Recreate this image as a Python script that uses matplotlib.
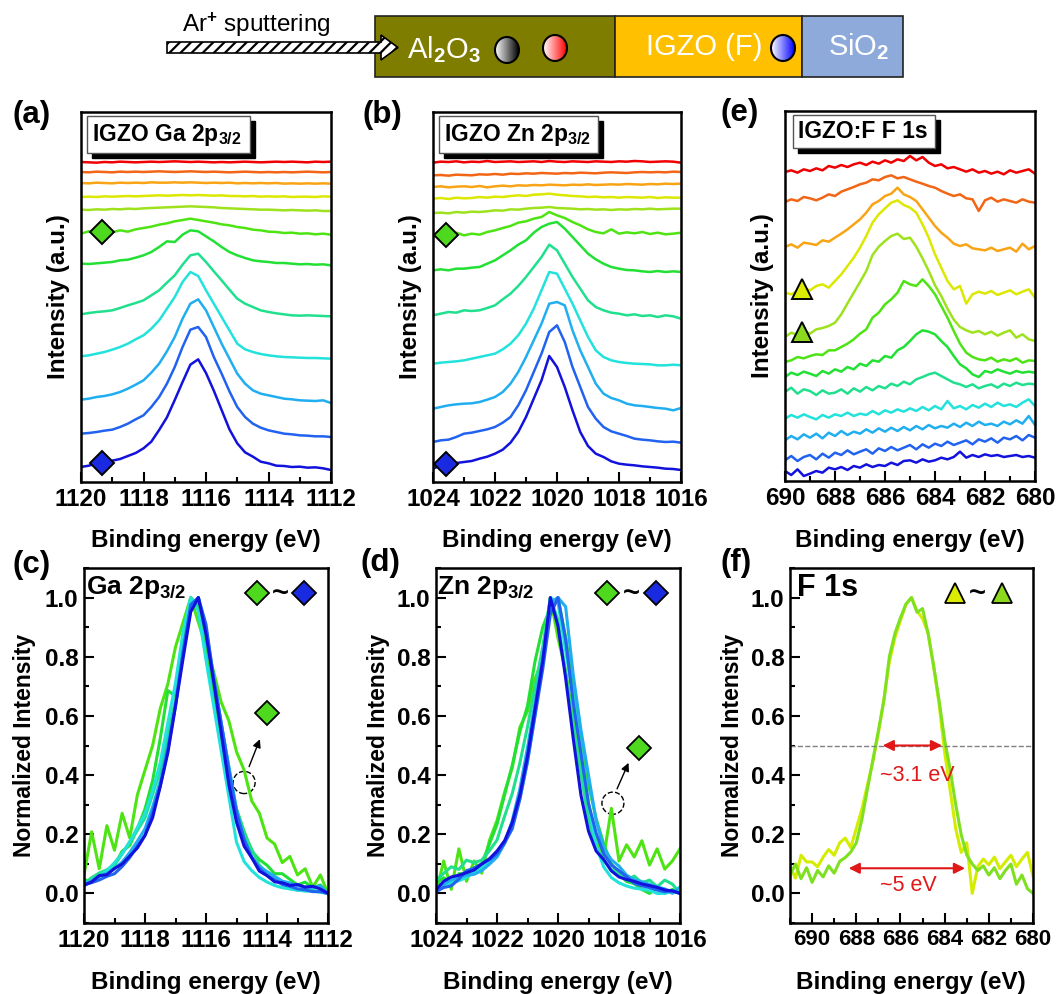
import numpy as np
import matplotlib.pyplot as plt
import matplotlib.colors as mcolors
from matplotlib.patches import Rectangle, Polygon, Ellipse
from matplotlib.ticker import MultipleLocator, FormatStrFormatter

plt.rcParams['font.family'] = ['Liberation Sans', 'DejaVu Sans']
plt.rcParams['font.weight'] = 'bold'
plt.rcParams['mathtext.fontset'] = 'custom'
plt.rcParams['mathtext.rm'] = 'Liberation Sans:bold'
plt.rcParams['mathtext.bf'] = 'Liberation Sans:bold'
plt.rcParams['mathtext.it'] = 'Liberation Sans:bold'
plt.rcParams['mathtext.sf'] = 'Liberation Sans'
plt.rcParams['hatch.linewidth'] = 1.6

# ---------------- data (intensities in a.u., stacked as plotted) ----------------
# Ga 2p3/2, panel (a)
ga_energy = [1120.0, 1119.75, 1119.5, 1119.25, 1119.0, 1118.75, 1118.5, 1118.25, 1118.0,
             1117.75, 1117.5, 1117.25, 1117.0, 1116.75, 1116.5, 1116.25, 1116.0, 1115.75,
             1115.5, 1115.25, 1115.0, 1114.75, 1114.5, 1114.25, 1114.0, 1113.75, 1113.5,
             1113.25, 1113.0, 1112.75, 1112.5, 1112.25, 1112.0]
ga_red = [960, 959, 958, 960, 959, 961, 960, 959, 960, 961, 960, 961, 962, 961, 960, 961, 960,
          959, 960, 959, 960, 961, 960, 959, 960, 961, 960, 961, 960, 959, 961, 960, 961]
ga_orangered = [930, 929, 931, 930, 929, 931, 930, 931, 930, 931, 932, 931, 930, 931, 932, 931, 930,
                931, 930, 929, 930, 931, 930, 929, 930, 929, 930, 929, 930, 931, 930, 929, 930]
ga_orange = [897, 896, 898, 897, 896, 898, 897, 898, 897, 899, 898, 898, 899, 898, 899, 898, 897,
             898, 897, 898, 896, 897, 896, 897, 896, 897, 895, 896, 895, 896, 895, 896, 895]
ga_yellow = [855, 856, 855, 857, 856, 857, 858, 857, 858, 859, 860, 859, 860, 861, 860, 861, 860,
             859, 860, 858, 858, 857, 858, 856, 857, 856, 857, 855, 856, 856, 855, 857, 856]
ga_yellowgreen = [817, 816, 818, 817, 819, 818, 820, 819, 821, 822, 823, 824, 825, 826, 827, 826, 825,
                  824, 822, 821, 820, 819, 818, 817, 817, 816, 815, 816, 815, 814, 815, 813, 813]
ga_green1 = [745, 752, 746, 753, 749, 755, 751, 758, 762, 766, 772, 776, 782, 786, 790, 786, 782,
             778, 773, 770, 765, 762, 757, 755, 751, 750, 747, 748, 745, 746, 743, 745, 742]
ga_green2 = [655, 654, 656, 658, 660, 665, 667, 673, 680, 690, 705, 722, 720, 742, 755, 752, 737,
             722, 705, 690, 680, 672, 665, 662, 660, 657, 657, 655, 653, 654, 652, 653, 650]
ga_springgreen = [503, 507, 510, 512, 515, 522, 530, 537, 545, 560, 575, 598, 620, 652, 680, 685, 660,
                  632, 605, 577, 550, 535, 525, 515, 510, 506, 503, 500, 499, 500, 499, 498, 497]
ga_cyan = [377, 380, 385, 390, 397, 405, 415, 428, 440, 460, 485, 520, 555, 600, 630, 618, 575,
           535, 495, 455, 415, 398, 390, 384, 380, 377, 375, 374, 373, 372, 372, 371, 370]
ga_lightblue = [247, 250, 255, 258, 263, 270, 280, 292, 305, 328, 355, 392, 435, 490, 535, 548, 515,
                465, 415, 370, 325, 295, 275, 265, 260, 255, 250, 248, 245, 244, 243, 245, 237]
ga_blue = [145, 147, 150, 154, 157, 165, 175, 188, 200, 225, 255, 295, 345, 405, 457, 465, 435,
           375, 325, 272, 225, 195, 175, 163, 155, 150, 145, 143, 140, 139, 137, 137, 135]
ga_darkblue = [45, 49, 56, 57, 64, 69, 78, 87, 101, 121, 156, 194, 246, 300, 352, 368, 327,
               274, 216, 158, 116, 89, 76, 61, 56, 49, 48, 45, 46, 43, 44, 41, 36]

# Zn 2p3/2, panel (b)
zn_energy = [1024.0, 1023.75, 1023.5, 1023.25, 1023.0, 1022.75, 1022.5, 1022.25, 1022.0,
             1021.75, 1021.5, 1021.25, 1021.0, 1020.75, 1020.5, 1020.25, 1020.0, 1019.75,
             1019.5, 1019.25, 1019.0, 1018.75, 1018.5, 1018.25, 1018.0, 1017.75, 1017.5,
             1017.25, 1017.0, 1016.75, 1016.5, 1016.25, 1016.0]
zn_red = [958, 961, 960, 962, 959, 961, 960, 963, 960, 961, 962, 960, 961, 962, 960, 963, 961,
          960, 962, 961, 960, 962, 961, 960, 962, 961, 963, 962, 960, 961, 962, 961, 958]
zn_orangered = [920, 921, 919, 922, 921, 920, 923, 922, 924, 922, 925, 924, 926, 925, 927, 926, 925,
                927, 926, 928, 927, 926, 928, 929, 928, 927, 929, 930, 929, 930, 929, 931, 930]
zn_orange = [885, 887, 884, 886, 887, 885, 888, 884, 887, 889, 887, 890, 889, 891, 890, 892, 891,
             890, 892, 891, 893, 891, 892, 893, 892, 894, 893, 892, 894, 893, 895, 894, 895]
zn_yellow = [850, 852, 849, 853, 851, 852, 855, 853, 856, 855, 858, 860, 858, 862, 863, 865, 862,
             860, 858, 857, 855, 856, 854, 855, 853, 855, 854, 853, 855, 852, 854, 853, 853]
zn_yellowgreen = [807, 808, 806, 810, 808, 811, 810, 812, 815, 814, 818, 817, 820, 822, 823, 825, 822,
                  821, 820, 818, 819, 817, 818, 816, 818, 817, 819, 818, 820, 818, 819, 820, 820]
zn_green1 = [737, 745, 738, 748, 740, 745, 742, 750, 755, 762, 768, 778, 782, 790, 795, 810, 800,
             792, 780, 770, 758, 750, 746, 758, 745, 749, 746, 750, 744, 748, 743, 745, 748]
zn_green2 = [635, 638, 635, 640, 640, 643, 645, 655, 665, 680, 695, 712, 725, 748, 765, 775, 780,
             760, 735, 710, 685, 668, 655, 645, 640, 636, 635, 632, 630, 633, 630, 632, 630]
zn_springgreen = [500, 505, 510, 508, 515, 513, 515, 522, 530, 548, 565, 588, 615, 645, 675, 712, 695,
                  655, 615, 580, 545, 525, 515, 508, 505, 500, 503, 498, 500, 495, 500, 497, 490]
zn_cyan = [355, 358, 360, 362, 365, 370, 375, 380, 385, 398, 415, 440, 475, 520, 575, 630, 625,
           580, 535, 485, 435, 395, 375, 365, 360, 357, 355, 354, 353, 350, 350, 352, 350]
zn_lightblue = [220, 225, 230, 233, 235, 236, 240, 247, 255, 270, 295, 330, 375, 425, 475, 535, 540,
                530, 455, 395, 345, 295, 265, 252, 245, 235, 230, 228, 225, 222, 220, 215, 222]
zn_blue = [120, 125, 127, 135, 145, 148, 153, 158, 165, 178, 195, 230, 275, 330, 385, 450, 470,
           420, 345, 285, 225, 190, 165, 152, 145, 138, 130, 127, 125, 122, 120, 121, 118]
zn_darkblue = [40, 50, 55, 57, 60, 63, 70, 76, 85, 97, 118, 150, 195, 250, 305, 378, 345,
               285, 215, 150, 108, 85, 75, 62, 55, 52, 50, 47, 45, 43, 40, 39, 36]

# F 1s, panel (e); the scan starts at 691 eV (seen in panel f)
f_energy = [691.0, 690.75, 690.5, 690.25,
            690.0, 689.75, 689.5, 689.25, 689.0, 688.75, 688.5, 688.25, 688.0, 687.75,
            687.5, 687.25, 687.0, 686.75, 686.5, 686.25, 686.0, 685.75, 685.5, 685.25,
            685.0, 684.75, 684.5, 684.25, 684.0, 683.75, 683.5, 683.25, 683.0, 682.75,
            682.5, 682.25, 682.0, 681.75, 681.5, 681.25, 681.0, 680.75, 680.5, 680.25, 680.0]
f_red = [925, 930, 922, 928,
         927, 932, 925, 935, 930, 938, 932, 945, 940, 948, 942, 950, 955, 948, 958, 952, 962,
         955, 965, 960, 975, 962, 972, 955, 945, 950, 938, 942, 935, 928, 935, 925, 930, 922,
         928, 920, 932, 925, 930, 935, 922]
f_orangered = [840, 835, 845, 832,
               837, 845, 840, 852, 848, 842, 850, 860, 855, 868, 875, 882, 890, 895, 905, 902, 912,
               917, 908, 912, 905, 898, 892, 885, 880, 870, 862, 855, 860, 848, 845, 810, 842, 850,
               838, 845, 840, 835, 845, 838, 835]
f_orange = [705, 698, 710, 700,
            702, 710, 700, 715, 712, 708, 722, 718, 730, 742, 755, 770, 785, 805, 830, 840, 855,
            862, 880, 860, 852, 840, 815, 790, 765, 745, 730, 712, 705, 710, 698, 695, 692, 700,
            690, 695, 700, 688, 712, 695, 705]
f_yellow = [560, 548, 572, 565,
            565, 560, 570, 578, 572, 585, 590, 580, 600, 620, 645, 670, 700, 735, 775, 800, 818,
            835, 842, 828, 820, 805, 770, 730, 680, 640, 600, 575, 585, 532, 560, 568, 562, 570,
            558, 565, 572, 560, 568, 575, 550]
f_yellowgreen = [440, 452, 436, 448,
                 432, 445, 438, 450, 442, 455, 459, 465, 475, 500, 533, 565, 597, 630, 678, 703, 720,
                 735, 742, 726, 730, 703, 668, 630, 587, 555, 517, 484, 462, 452, 445, 450, 440, 448,
                 436, 445, 452, 430, 440, 425, 420]
f_green1 = [360, 355, 362, 352,
            357, 362, 372, 368, 375, 380, 378, 392, 392, 402, 412, 425, 442, 455, 490, 505, 530,
            545, 565, 600, 590, 585, 605, 585, 560, 525, 490, 450, 412, 385, 372, 365, 362, 370,
            358, 365, 360, 368, 355, 362, 360]
f_green2 = [318, 310, 322, 315,
            312, 325, 318, 328, 322, 315, 330, 322, 335, 328, 342, 335, 352, 345, 362, 358, 375,
            370, 392, 402, 420, 440, 452, 448, 440, 420, 402, 375, 350, 338, 320, 312, 330, 325,
            335, 328, 322, 330, 325, 328, 325]
f_springgreen = [265, 272, 260, 270,
                 267, 280, 262, 275, 270, 258, 272, 262, 265, 275, 262, 278, 268, 282, 272, 285, 278,
                 292, 285, 298, 290, 305, 312, 320, 325, 315, 305, 295, 290, 282, 290, 278, 285, 290,
                 280, 292, 285, 295, 288, 292, 290]
f_cyan = [190, 182, 195, 185,
          187, 198, 190, 200, 192, 185, 198, 190, 200, 195, 205, 195, 202, 198, 210, 200, 212,
          205, 215, 208, 218, 210, 222, 212, 225, 215, 240, 218, 225, 215, 228, 220, 232, 222,
          235, 225, 230, 222, 235, 245, 225]
f_lightblue = [125, 118, 128, 120,
               122, 135, 125, 140, 130, 142, 128, 145, 135, 150, 138, 148, 142, 155, 145, 158, 148,
               160, 150, 162, 152, 165, 155, 168, 158, 165, 160, 172, 162, 175, 165, 178, 168, 172,
               165, 178, 170, 182, 172, 195, 168]
f_blue = [60, 68, 58, 70,
          62, 75, 60, 72, 78, 65, 82, 70, 85, 78, 92, 80, 88, 95, 82, 98, 90, 102, 92, 100, 108,
          95, 110, 100, 112, 105, 118, 108, 115, 122, 110, 125, 118, 128, 115, 130, 125, 135, 122,
          138, 130]
f_darkblue = [28, 20, 32, 24,
              30, 18, 35, 15, 22, 30, 25, 40, 35, 42, 33, 45, 40, 50, 42, 48, 45, 55, 48, 60, 62,
              55, 65, 58, 62, 70, 65, 72, 88, 70, 78, 72, 80, 75, 78, 72, 75, 78, 72, 75, 70]

# etch depth colours, top (Al2O3 side) to bottom (SiO2 side)
depth_colors = ['#f00000', '#f26514', '#f8a414', '#dce800', '#9ee21e', '#4ee414',
                '#22e034', '#20e08e', '#22e2dc', '#20aef0', '#2262f0', '#1212dc']

# annotation marks (binding energy of the depth markers)
ga_marks_x = [1119.34, 1119.32]
zn_marks_x = [1023.57, 1023.58]
f_marks_x = [689.33, 689.33]
ga_legend_x = [1114.33, 1113.57, 1112.8]
zn_legend_x = [1018.4, 1017.6, 1016.8]
f_legend_x = [683.53, 682.5, 681.4]
fwhm_bounds = [686.93, 683.99]
base_bounds = [688.47, 682.95]

ga_spectra = [ga_red, ga_orangered, ga_orange, ga_yellow, ga_yellowgreen, ga_green1,
              ga_green2, ga_springgreen, ga_cyan, ga_lightblue, ga_blue, ga_darkblue]
zn_spectra = [zn_red, zn_orangered, zn_orange, zn_yellow, zn_yellowgreen, zn_green1,
              zn_green2, zn_springgreen, zn_cyan, zn_lightblue, zn_blue, zn_darkblue]
f_spectra = [f_red, f_orangered, f_orange, f_yellow, f_yellowgreen, f_green1,
             f_green2, f_springgreen, f_cyan, f_lightblue, f_blue, f_darkblue]

# ---------------- figure ----------------
W, H = 1056, 994
fig = plt.figure(figsize=(W / 100, H / 100), dpi=100)


def px_rect(left, top, right, bottom):
    return [left / W, 1 - bottom / H, (right - left) / W, (bottom - top) / H]


def fig_text(x, y, s, **kw):
    fig.text(x / W, 1 - y / H, s, **kw)


def style_axes(ax, xlim, normalized=False, xsize=17.5):
    ax.set_xlim(*xlim)
    ax.xaxis.set_major_locator(MultipleLocator(2))
    ax.xaxis.set_minor_locator(MultipleLocator(1))
    ax.xaxis.set_major_formatter(FormatStrFormatter('%d'))
    ax.tick_params(which='both', direction='in', top=False, right=False, width=1.5,
                   labelsize=17.5, pad=4)
    ax.tick_params(axis='x', labelsize=xsize)
    ax.tick_params(which='major', length=7)
    ax.tick_params(which='minor', length=3.5)
    for sp in ax.spines.values():
        sp.set_linewidth(1.8)
    if normalized:
        ax.set_ylim(-0.1, 1.1)
        ax.yaxis.set_major_locator(MultipleLocator(0.2))
        ax.yaxis.set_minor_locator(MultipleLocator(0.1))
        ax.yaxis.set_major_formatter(FormatStrFormatter('%.1f'))
    else:
        ax.set_ylim(0, 1110)
        ax.set_yticks([])


def stacked(ax, energy, spectra, marks_x, marker, mark_idx, mark_colors, ms):
    energy = np.asarray(energy, float)
    for y, c in zip(spectra, depth_colors):
        ax.plot(energy, y, color=c, lw=1.8)
    for mx, idx, mc in zip(marks_x, mark_idx, mark_colors):
        my = np.interp(mx, energy[::-1], np.asarray(spectra[idx], float)[::-1])
        ax.plot(mx, my, marker=marker, ms=ms, mfc=mc, mec='black', mew=1.4, ls='none', zorder=5)


def label_box(ax, x0, y0, x1, y1, text):
    ax.add_patch(Rectangle((x0 + 0.02, y0 - 0.014), x1 - x0, y1 - y0, transform=ax.transAxes,
                           fc='black', ec='black', zorder=6))
    ax.add_patch(Rectangle((x0, y0), x1 - x0, y1 - y0, transform=ax.transAxes,
                           fc='white', ec='#555555', lw=1, zorder=7))
    ax.text(x0 + 0.022, (y0 + y1) / 2, text, transform=ax.transAxes, fontsize=16.5,
            va='center', ha='left', zorder=8)


def normalized(ax, energy, spectra, colors):
    for y, c in zip(spectra, colors):
        y = np.asarray(y, float)
        ax.plot(energy, (y - y.min()) / (y.max() - y.min()), color=c, lw=2.2)


def legend_marks(ax, xs, marker, colors, ms):
    ax.plot(xs[0], 1.017, marker=marker, ms=ms, mfc=colors[0], mec='black', mew=1.3, ls='none')
    ax.text(xs[1], 1.017, '~', fontsize=21, ha='center', va='center')
    ax.plot(xs[2], 1.017, marker=marker, ms=ms, mfc=colors[1], mec='black', mew=1.3, ls='none')


# ---- top schematic ----
ax_top = fig.add_axes([0, 1 - 90 / H, 1, 90 / H])
ax_top.add_patch(Rectangle((375, 16), 240, 61, fc='#7f7d00', ec='#222222', lw=1.2))
ax_top.add_patch(Rectangle((615, 16), 187, 61, fc='#ffc000', ec='#222222', lw=1.2))
ax_top.add_patch(Rectangle((802, 16), 101, 61, fc='#8eaadb', ec='#222222', lw=1.2))
ax_top.add_patch(Polygon([(167, 42), (381, 42), (381, 35), (398, 47.5), (381, 60), (381, 53), (167, 53)],
                         closed=True, fc='white', ec='black', lw=1.2, hatch='///', zorder=3))
ax_top.text(182, 25, r'Ar$^\mathsf{+}$ sputtering', fontsize=17.5, fontweight='normal', va='center')
ax_top.text(407, 50, r'Al$_\mathsf{2}$O$_\mathsf{3}$', fontsize=21, fontweight='normal',
            color='white', va='center')
ax_top.text(646, 47, 'IGZO (F)', fontsize=21, fontweight='normal', color='white', va='center')
ax_top.text(828, 47, r'SiO$_\mathsf{2}$', fontsize=21, fontweight='normal', color='white', va='center')
for cx, cy, col in [(507, 50, '#000000'), (555, 48, '#ff0000'), (783, 48, '#0000ff')]:
    cmap = mcolors.LinearSegmentedColormap.from_list('ball', ['white', col])
    im = ax_top.imshow(np.linspace(0, 1, 64).reshape(1, -1), cmap=cmap, aspect='auto',
                       extent=(cx - 12, cx + 12, cy + 13, cy - 13), zorder=4)
    ball = Ellipse((cx, cy), 24, 26, fc='none', ec='black', lw=1.5, zorder=5)
    ax_top.add_patch(ball)
    im.set_clip_path(ball)
ax_top.set_xlim(0, W)
ax_top.set_ylim(90, 0)
ax_top.axis('off')

# ---- panel (a) ----
ax_a = fig.add_axes(px_rect(81, 112, 331, 482))
stacked(ax_a, ga_energy, ga_spectra, ga_marks_x, 'D', [5, 11], ['#4ed81e', '#1a2ae0'], 12)
style_axes(ax_a, (1120, 1112))
label_box(ax_a, 0.024, 0.889, 0.676, 0.989, r'IGZO Ga 2p$_{3/2}$')

# ---- panel (b) ----
ax_b = fig.add_axes(px_rect(433, 112, 681, 482))
stacked(ax_b, zn_energy, zn_spectra, zn_marks_x, 'D', [5, 11], ['#4ed81e', '#1a2ae0'], 12)
style_axes(ax_b, (1024, 1016))
label_box(ax_b, 0.024, 0.889, 0.665, 0.989, r'IGZO Zn 2p$_{3/2}$')

# ---- panel (e) ----
ax_e = fig.add_axes(px_rect(785, 111, 1035, 481))
stacked(ax_e, f_energy, f_spectra, f_marks_x, '^', [3, 4], ['#dcec00', '#8cd81e'], 15)
style_axes(ax_e, (690, 680))
label_box(ax_e, 0.032, 0.9, 0.6, 0.989, 'IGZO:F F 1s')

# ---- panel (c) ----
ax_c = fig.add_axes(px_rect(84, 568, 328, 923))
normalized(ax_c, ga_energy, ga_spectra[5:], depth_colors[5:])
style_axes(ax_c, (1120, 1112), normalized=True)
ax_c.text(0.008, 0.946, r'Ga 2p$_{3/2}$', transform=ax_c.transAxes, fontsize=19, va='center')
legend_marks(ax_c, ga_legend_x, 'D', ['#4ed81e', '#1a2ae0'], 12)
ax_c.add_patch(Ellipse((1114.75, 0.375), 0.72, 0.075, fill=False, ls='--', lw=1, ec='black'))
ax_c.annotate('', xy=(1114.2, 0.53), xytext=(1114.62, 0.42),
              arrowprops=dict(arrowstyle='-|>', color='black', lw=1, mutation_scale=12))
ax_c.plot(1114.0, 0.61, marker='D', ms=12, mfc='#4ed81e', mec='black', mew=1.3, ls='none')

# ---- panel (d) ----
ax_d = fig.add_axes(px_rect(436, 568, 680, 923))
normalized(ax_d, zn_energy, zn_spectra[5:], depth_colors[5:])
style_axes(ax_d, (1024, 1016), normalized=True)
ax_d.text(0.005, 0.946, r'Zn 2p$_{3/2}$', transform=ax_d.transAxes, fontsize=19, va='center')
legend_marks(ax_d, zn_legend_x, 'D', ['#4ed81e', '#1a2ae0'], 12)
ax_d.add_patch(Ellipse((1018.2, 0.305), 0.72, 0.075, fill=False, ls='--', lw=1, ec='black'))
ax_d.annotate('', xy=(1017.65, 0.45), xytext=(1018.1, 0.345),
              arrowprops=dict(arrowstyle='-|>', color='black', lw=1, mutation_scale=12))
ax_d.plot(1017.35, 0.49, marker='D', ms=12, mfc='#4ed81e', mec='black', mew=1.3, ls='none')

# ---- panel (f) ----
ax_f = fig.add_axes(px_rect(790, 568, 1033, 923))
normalized(ax_f, f_energy, f_spectra[3:5], ['#d4ec00', '#7ee020'])
style_axes(ax_f, (691, 680), normalized=True, xsize=16)
ax_f.text(0.03, 0.944, 'F 1s', transform=ax_f.transAxes, fontsize=22, va='center')
legend_marks(ax_f, f_legend_x, '^', ['#dcec00', '#8cd81e'], 15)
ax_f.axhline(0.5, color='gray', ls='--', lw=1)
ax_f.annotate('', xy=(fwhm_bounds[1], 0.5), xytext=(fwhm_bounds[0], 0.5),
              arrowprops=dict(arrowstyle='<|-|>', color='#e01818', lw=1.5, mutation_scale=16))
ax_f.annotate('', xy=(base_bounds[1], 0.085), xytext=(base_bounds[0], 0.085),
              arrowprops=dict(arrowstyle='<|-|>', color='#e01818', lw=1.5, mutation_scale=16))
ax_f.text(685.25, 0.40, '~3.1 eV', color='#e01818', fontsize=15.5, fontweight='normal',
          ha='center', va='center')
ax_f.text(685.66, 0.027, '~5 eV', color='#e01818', fontsize=15.5, fontweight='normal',
          ha='center', va='center')

# ---- labels ----
for x, y, s in [(13, 115, '(a)'), (362, 115, '(b)'), (720, 113, '(e)'),
                (13, 565, '(c)'), (361, 563, '(d)'), (720, 563, '(f)')]:
    fig_text(x, y, s, fontsize=22.5, ha='left', va='center')
for x, y in [(206, 541), (557, 541), (910, 541), (206, 982), (558, 982), (911, 982)]:
    fig_text(x, y, 'Binding energy (eV)', fontsize=17.5, ha='center', va='center')
for x, y in [(58, 297), (410, 297), (762, 296)]:
    fig_text(x, y, 'Intensity (a.u.)', fontsize=17.5, ha='center', va='center', rotation=90)
for x, y in [(25, 745), (378, 745), (732, 745)]:
    fig_text(x, y, 'Normalized Intensity', fontsize=16.5, ha='center', va='center', rotation=90)

fig.savefig('out.png', dpi=100)
